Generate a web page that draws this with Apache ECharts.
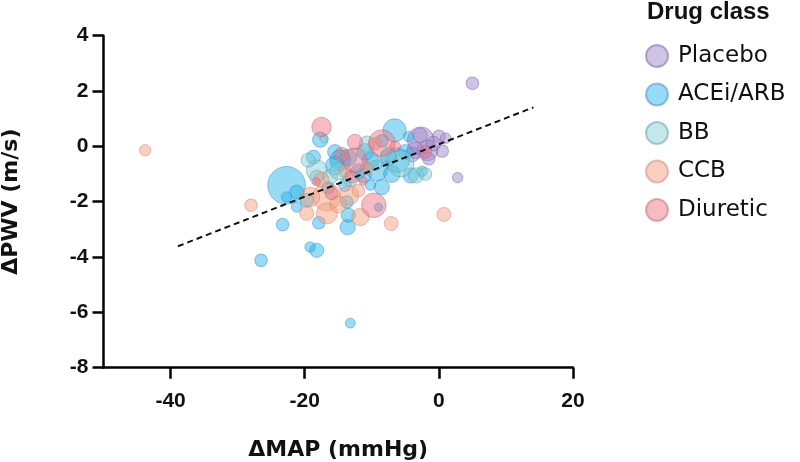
<!DOCTYPE html>
<html><head><meta charset="utf-8">
<script src="https://cdn.jsdelivr.net/npm/echarts@6/dist/echarts.min.js"></script>
<style>html,body{margin:0;padding:0;background:#fff}#c{width:800px;height:462px}</style>
</head><body><div id="c"></div>
<script>
// [ΔMAP (mmHg), ΔPWV (m/s), weight]
var placebo = [[5.0,2.28,36],[2.8,-1.13,25],[-2.7,0.22,161],[0.0,0.36,36],[0.5,-0.17,36],[-1.7,-0.14,100],[-2.8,0.4,49],[-3.5,-0.14,64],[-0.8,0.1,49],[1.0,0.3,25],[-1.5,-0.45,36],[-4.0,-0.3,49]];
var acei = [[-22.7,-1.41,324],[-17.7,0.24,53],[-23.3,-2.83,36],[-13.6,-2.92,53],[-26.5,-4.12,36],[-19.2,-3.64,25],[-18.2,-3.76,45],[-13.2,-6.39,22],[-6.6,0.58,121],[-18.7,-0.39,45],[-14.7,-0.5,100],[-15.5,-0.7,81],[-10.2,-0.5,64],[-9.2,-0.87,100],[-4.2,-1.05,53],[-8.5,-1.47,53],[-21.2,-1.65,45],[-22.7,-1.83,25],[-21.2,-2.19,25],[-17.9,-2.76,36],[-13.5,-2.49,45],[-4.5,0.35,25],[-6.2,-0.5,137],[-7.5,-0.4,64],[-11.2,-1.05,53],[-10.2,-1.4,25],[-19.7,-1.95,45],[-13.7,-2.01,36],[-9.0,-2.2,16],[-15.5,-0.2,49],[-13.5,-0.4,64],[-2.5,-0.9,25],[-8.5,0.2,36],[-16.5,-1.5,36],[-12.0,-0.9,49],[-5.0,-0.2,49],[-11.0,-0.2,64],[-7.0,-1.0,64],[-14.0,-1.4,36]];
var bb = [[-18.2,-0.87,100],[-17.1,0.28,16],[-5.7,-0.62,161],[-3.4,-1.05,53],[-13.2,-1.17,53],[-18.2,-1.12,45],[-19.5,-0.5,45],[-10.7,0.1,53],[-16.2,-1.1,49],[-7.5,-0.3,49],[-2.0,-1.0,36],[-15.0,-0.9,64],[-9.5,-0.6,49]];
var ccb = [[-43.8,-0.14,30],[-28.0,-2.13,36],[-7.1,-2.79,45],[0.75,-2.46,45],[-16.7,-1.83,177],[-13.4,-1.77,86],[-19.2,-1.83,86],[-19.7,-2.42,45],[-16.7,-2.42,100],[-17.5,-1.2,49],[-14.0,-0.9,36],[-11.7,-2.55,69],[-9.5,0.1,36],[-12.0,-1.6,36],[-15.0,-2.1,64],[-10.8,-0.8,36]];
var diuretic = [[-17.5,0.70,86],[-8.5,0.12,161],[-12.5,0.16,53],[-12.5,-0.5,137],[-9.7,-2.13,137],[-18.3,-1.28,16],[-11.3,-1.25,16],[-2.0,-0.2,36],[-14.5,-0.3,49],[-6.5,0.0,25],[-16.0,-1.7,36],[-13.0,-1.1,36]];
var fitLine = [[-38.9,-3.61],[14.1,1.41]];
var classNames = ['Placebo','ACEi/ARB','BB','CCB','Diuretic'];
var xTicks = [-40,-20,0,20];

var colors = ['rgba(160,136,205,0.62)','rgba(31,177,234,0.58)','rgba(127,203,210,0.58)','rgba(243,156,124,0.6)','rgba(236,111,128,0.58)'];
var borders = ['rgba(130,110,170,0.7)','rgba(70,130,190,0.6)','rgba(90,150,170,0.6)','rgba(200,130,120,0.6)','rgba(190,100,120,0.6)'];
var sets = [placebo, acei, bb, ccb, diuretic];

var series = sets.map(function(d,i){
  return {name: classNames[i], type:'scatter', data:d,
    symbolSize:function(v){return Math.sqrt(v[2])*2.1;},
    itemStyle:{color:colors[i], borderColor:borders[i], borderWidth:1},
    emphasis:{disabled:true}, z:2};
});
series.push({type:'line', data:fitLine, symbol:'none', silent:true, z:5,
  lineStyle:{color:'#111', width:2, type:[6,4]}});

var fontA = 'Liberation Sans, Arial, sans-serif';
var fontD = 'DejaVu Sans, sans-serif';
var chart = echarts.init(document.getElementById('c'), null, {renderer:'canvas'});
chart.setOption({
  animation:false,
  title:{text:'Drug class', left:647, top:0, padding:0, textStyle:{fontFamily:fontA, fontSize:24, fontWeight:'bold', color:'#111'}},
  legend:{orient:'vertical', left:645, top:44, padding:0, icon:'circle', itemWidth:22, itemHeight:22, itemGap:14.5,
    textStyle:{fontFamily:fontD, fontSize:23, color:'#111', padding:[0,0,0,5]}, data:classNames},
  grid:{left:103.5, right:227, top:35.7, bottom:94.3, containLabel:false, outerBoundsMode:'none'},
  xAxis:{type:'value', min:-50, max:20, name:'ΔMAP (mmHg)', nameLocation:'middle', nameGap:72,
    nameTextStyle:{fontFamily:fontD, fontSize:22, fontWeight:'bold', color:'#111'},
    axisLine:{onZero:false, lineStyle:{color:'#000', width:2.5}},
    axisTick:{length:11, lineStyle:{color:'#000', width:2.5}, customValues:xTicks},
    axisLabel:{fontFamily:fontA, fontSize:21, fontWeight:'bold', color:'#111', margin:23, customValues:xTicks},
    splitLine:{show:false}},
  yAxis:{type:'value', min:-8, max:4, interval:2, name:'ΔPWV (m/s)', nameLocation:'middle', nameGap:81, nameRotate:90,
    nameTextStyle:{fontFamily:fontD, fontSize:22, fontWeight:'bold', color:'#111'},
    axisLine:{onZero:false, lineStyle:{color:'#000', width:2.5}},
    axisTick:{length:11, lineStyle:{color:'#000', width:2.5}},
    axisLabel:{fontFamily:fontA, fontSize:21, fontWeight:'bold', color:'#111', margin:15},
    splitLine:{show:false}},
  series:series
});
</script></body></html>
